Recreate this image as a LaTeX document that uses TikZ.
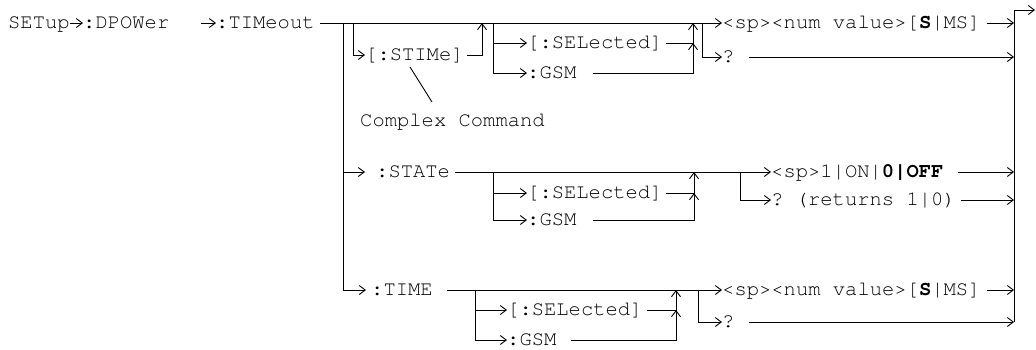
\documentclass[tikz,border=0pt]{standalone}
\usepackage{fontspec}
\setmonofont{TeX Gyre Cursor}
\usetikzlibrary{arrows.meta}
\begin{document}
\begin{tikzpicture}[x=1pt,y=-1pt,
  lbl/.style={font=\ttfamily\fontsize{20.5}{24}\selectfont, inner sep=0pt, anchor=west, text height=10pt, text depth=0pt},
  wire/.style={line width=0.9pt},
  arr/.style={wire, -{Straight Barb[length=6pt,width=9pt]}},
]
\useasboundingbox (0,0) rectangle (1036,349);
% ---- nodes
\node[lbl] (setup) at (8,23) {SETup};
\node[lbl] (dpower) at (83,23) {:DPOWer};
\node[lbl] (timeout) at (216,23) {:TIMeout};
\node[lbl] (stime) at (365,55) {[:STIMe]};
\node[lbl] (sel1) at (527,43) {[:SELected]};
\node[lbl] (gsm1) at (527,73) {:GSM};
\node[lbl] (numA) at (722,23) {<sp><num value>[\textbf{S}|MS]};
\node[lbl] (qA) at (722,57) {?};
\node[lbl] (cc) at (360,121) {Complex Command};
\node[lbl] (state) at (376,172) {:STATe};
\node[lbl] (sel2) at (527,193) {[:SELected]};
\node[lbl] (gsm2) at (527,220) {:GSM};
\node[lbl] (onoff) at (771,172) {<sp>1|ON|\textbf{0|OFF}};
\node[lbl] (qB) at (771,200) {? (returns 1|0)};
\node[lbl] (time) at (371,290) {:TIME};
\node[lbl] (sel3) at (507,310) {[:SELected]};
\node[lbl] (gsm3) at (507,340) {:GSM};
\node[lbl] (numC) at (722,290) {<sp><num value>[\textbf{S}|MS]};
\node[lbl] (qC) at (722,322) {?};
% ---- coordinates
\coordinate (a0) at (201,23);
\coordinate (j1) at (343,23);
\coordinate (j2) at (353,23);
\coordinate (u1) at (482,23);
\coordinate (j3) at (493,23);
\coordinate (m1) at (693,23);
\coordinate (f1) at (702,23);
\coordinate (j4) at (493,172);
\coordinate (m2) at (694,172);
\coordinate (f2) at (740,172);
\coordinate (j5) at (475,290);
\coordinate (m3) at (676,290);
\coordinate (f3) at (698,290);
\coordinate (rbTop) at (1014,10);
\coordinate (rbBot) at (1014,322);
\coordinate (exit) at (1035,10);
\coordinate (c1) at (410,67);
\coordinate (c2) at (432,102);
% ---- row 1
\draw[arr] (setup.east) -- (dpower.west);
\draw[arr] (a0) -- (timeout.west);
\draw[arr] ([xshift=5pt]timeout.east) -- (numA.west);
\draw[arr] (j2) |- (stime.west);
\draw[arr] ([xshift=3pt]stime.east) -| (u1);
\draw[arr] (j3) |- (sel1.west);
\draw[arr] (j3) |- (gsm1.west);
\draw[arr] ([xshift=3pt]sel1.east) -| (m1);
\draw[arr] ([xshift=16pt]gsm1.east) -| (m1 |- sel1.west);
\draw[arr] (f1) |- (qA.west);
\draw[arr] ([xshift=6pt]numA.east) -- (numA.east -| rbTop);
\draw[arr] ([xshift=14pt]qA.east) -- (qA.east -| rbTop);
\draw[wire] (c1) -- (c2);
% ---- main bus
\draw[arr] (j1) |- ([xshift=-5pt]time.west);
\draw[arr] (j1 |- state.west) -- ([xshift=-11pt]state.west);
% ---- row STATe
\draw[arr] ([xshift=5pt]state.east) -- (onoff.west);
\draw[arr] (j4) |- (sel2.west);
\draw[arr] (j4) |- (gsm2.west);
\draw[arr] ([xshift=3pt]sel2.east) -| (m2);
\draw[arr] ([xshift=16pt]gsm2.east) -| (m2 |- sel2.west);
\draw[arr] (f2) |- (qB.west);
\draw[arr] ([xshift=14pt]onoff.east) -- (onoff.east -| rbTop);
\draw[arr] ([xshift=5pt]qB.east) -- (qB.east -| rbTop);
% ---- row TIME
\draw[arr] ([xshift=14pt]time.east) -- (numC.west);
\draw[arr] (j5) |- (sel3.west);
\draw[arr] (j5) |- (gsm3.west);
\draw[arr] ([xshift=4pt]sel3.east) -| (m3);
\draw[arr] ([xshift=14pt]gsm3.east) -| (m3 |- sel3.west);
\draw[arr] (f3) |- (qC.west);
\draw[arr] ([xshift=6pt]numC.east) -- (numC.east -| rbTop);
\draw[arr] ([xshift=14pt]qC.east) -- (qC.east -| rbTop);
% ---- right bus
\draw[arr] (rbBot) -- (rbTop) -- (exit);
\end{tikzpicture}
\end{document}
